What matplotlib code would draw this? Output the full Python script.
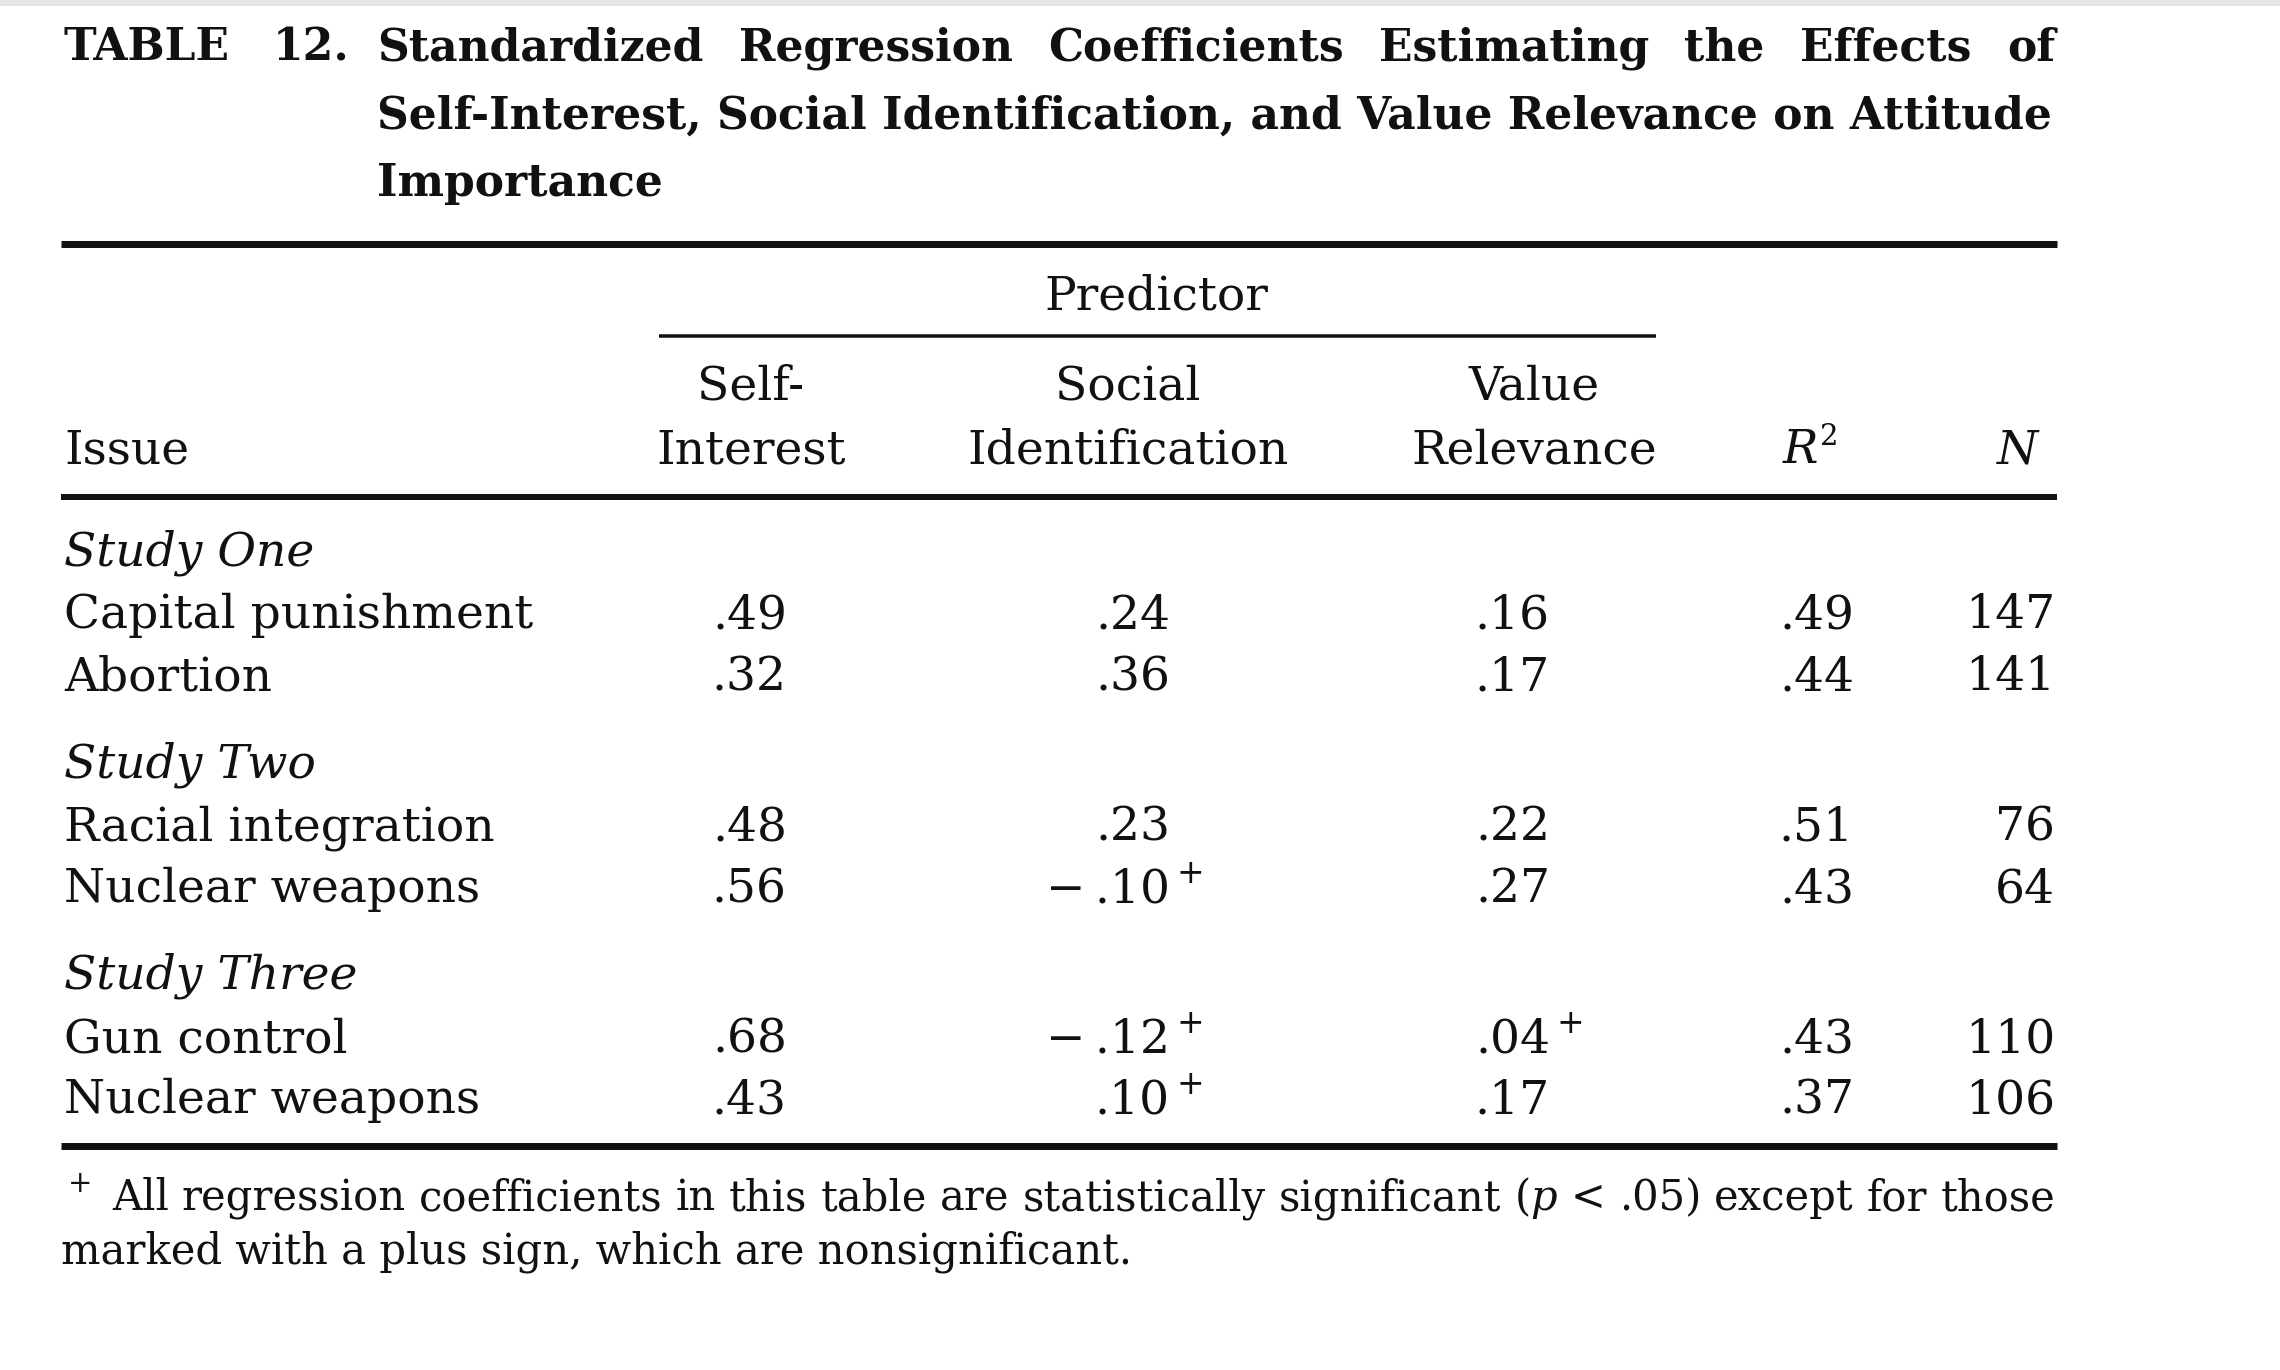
import matplotlib
matplotlib.use("Agg")
import matplotlib.pyplot as plt
from matplotlib.patches import Rectangle

plt.rcParams['mathtext.fontset'] = 'dejavuserif'
plt.rcParams['font.family'] = ['DejaVu Serif']

# ---------------- data ----------------
title_label = "TABLE 12."
title_lines = ["Standardized Regression Coefficients Estimating the Effects of",
               "Self-Interest, Social Identification, and Value Relevance on Attitude",
               "Importance"]
spanner = "Predictor"
col_headers = [("Self-", "Interest"), ("Social", "Identification"), ("Value", "Relevance")]
stat_headers = [("R", "2"), ("N", "")]
issue_header = "Issue"

studies = ["Study One", "Study Two", "Study Three"]
issues = [["Capital punishment", "Abortion"],
          ["Racial integration", "Nuclear weapons"],
          ["Gun control", "Nuclear weapons"]]
self_interest = [0.49, 0.32, 0.48, 0.56, 0.68, 0.43]
social_id = [0.24, 0.36, 0.23, -0.10, -0.12, 0.10]
value_rel = [0.16, 0.17, 0.22, 0.27, 0.04, 0.17]
nonsig_self = [False, False, False, False, False, False]
nonsig_social = [False, False, False, True, True, True]
nonsig_value = [False, False, False, False, True, False]
r_squared = [0.49, 0.44, 0.51, 0.43, 0.43, 0.37]
n_obs = [147, 141, 76, 64, 110, 106]
footnote_mark = "+"
footnote_lines = ["All regression coefficients in this table are statistically significant ($p$ < .05) except for those",
                  "marked with a plus sign, which are nonsignificant."]

# ---------------- layout ----------------
W, H = 2280, 1370
DPI = 100
fig = plt.figure(figsize=(W / DPI, H / DPI), dpi=DPI)
ax = fig.add_axes([0, 0, 1, 1])
ax.set_xlim(0, W)
ax.set_ylim(H, 0)
ax.axis('off')
renderer = fig.canvas.get_renderer()

ax.add_patch(Rectangle((0, 0), W, 6, color='#e4e4e4', lw=0))


def measure(s, size, **kw):
    t = ax.text(0, 0, s, fontsize=size, **kw)
    w = t.get_window_extent(renderer).width
    t.remove()
    return w


def fit(s, target, **kw):
    return 20 * target / measure(s, 20, **kw)


def justify(words, x0, x1, y, size, **kw):
    ws = [measure(w, size, **kw) for w in words]
    gap = (x1 - x0 - sum(ws)) / (len(words) - 1)
    x = x0
    for w, wd in zip(words, ws):
        ax.text(x, y, w, fontsize=size, ha='left', va='baseline', **kw)
        x += wd + gap


def fmt(v):
    s = f"{abs(v):.2f}"[1:]
    return ("\u2212\u2009" + s) if v < 0 else s


L, R = 61, 2057
ink = '#111111'

# title
tkw = dict(fontweight='bold', color=ink)
tsize = fit(title_lines[1], 1678, **tkw)
tem = tsize * DPI / 72
tb = 0.37 * tem
justify(title_label.split(), 64, 349, 44 + tb, tsize, **tkw)
justify(title_lines[0].split(), 377, 2055, 44 + tb, tsize, **tkw)
ax.text(377, 112 + tb, title_lines[1], fontsize=tsize, ha='left', va='baseline', **tkw)
ax.text(377, 180 + tb, title_lines[2], fontsize=tsize, ha='left', va='baseline', **tkw)

# rules
def rule(y, x0, x1, px):
    ax.plot([x0, x1], [y, y], color=ink, lw=px * 72 / DPI, solid_capstyle='butt')

rule(244, L, R, 7)
rule(336, 659, 1656, 3.5)
rule(497, L, R, 6)
rule(1146, L, R, 7)

# body font size
bkw = dict(color=ink)
bsize = fit("Capital punishment", 468, **bkw)
bem = bsize * DPI / 72
bb = 0.37 * bem

# headers
ax.text(1156, 292 + bb, spanner, fontsize=bsize, ha='center', va='baseline', **bkw)
col_centers = [751, 1128, 1534]
for cx, (h1, h2) in zip(col_centers, col_headers):
    ax.text(cx, 382 + bb, h1, fontsize=bsize, ha='center', va='baseline', **bkw)
    ax.text(cx, 446 + bb, h2, fontsize=bsize, ha='center', va='baseline', **bkw)
ax.text(64, 446 + bb, issue_header, fontsize=bsize, ha='left', va='baseline', **bkw)
for cx, (h, sup) in zip([1810, 2018], stat_headers):
    ha = 'right' if sup else 'center'
    ax.text(cx + (8 if sup else 0), 446 + bb, h, fontsize=bsize, ha=ha, va='baseline',
            style='italic', **bkw)
    if sup:
        ax.text(cx + 9, 446 + bb - 0.40 * bem, sup, fontsize=bsize * 0.62,
                ha='left', va='baseline', **bkw)

# body rows
study_y = [548, 760, 971]
row_y = [[611, 673], [823, 885], [1035, 1096]]
right_edges = [787, 1170, 1550, 1854, 2055]
cols = [self_interest, social_id, value_rel]
flags = [nonsig_self, nonsig_social, nonsig_value]

k = 0
for s, sy, iss, ys in zip(studies, study_y, issues, row_y):
    ax.text(64, sy + bb, s, fontsize=bsize, ha='left', va='baseline', style='italic', **bkw)
    for name, y in zip(iss, ys):
        ax.text(64, y + bb, name, fontsize=bsize, ha='left', va='baseline', **bkw)
        for ci, (vals, fl) in enumerate(zip(cols, flags)):
            xr = right_edges[ci]
            ax.text(xr, y + bb, fmt(vals[k]), fontsize=bsize, ha='right', va='baseline', **bkw)
            if fl[k]:
                ax.text(xr + 6, y + bb - 0.42 * bem, "+", fontsize=bsize * 0.7,
                        ha='left', va='baseline', **bkw)
        ax.text(right_edges[3], y + bb, fmt(r_squared[k]), fontsize=bsize, ha='right', va='baseline', **bkw)
        ax.text(right_edges[4], y + bb, str(n_obs[k]), fontsize=bsize, ha='right', va='baseline', **bkw)
        k += 1

# footnote
fsize = fit(footnote_lines[1], 1067, **bkw)
fem = fsize * DPI / 72
fb = 0.37 * fem
ax.text(68, 1195 + fb - 0.45 * fem, footnote_mark, fontsize=fsize * 0.7, ha='left', va='baseline', **bkw)
justify(footnote_lines[0].split(), 112, 2055, 1195 + fb, fsize, **bkw)
ax.text(61, 1248 + fb, footnote_lines[1], fontsize=fsize, ha='left', va='baseline', **bkw)

fig.savefig("out.png", dpi=DPI, facecolor='white')
